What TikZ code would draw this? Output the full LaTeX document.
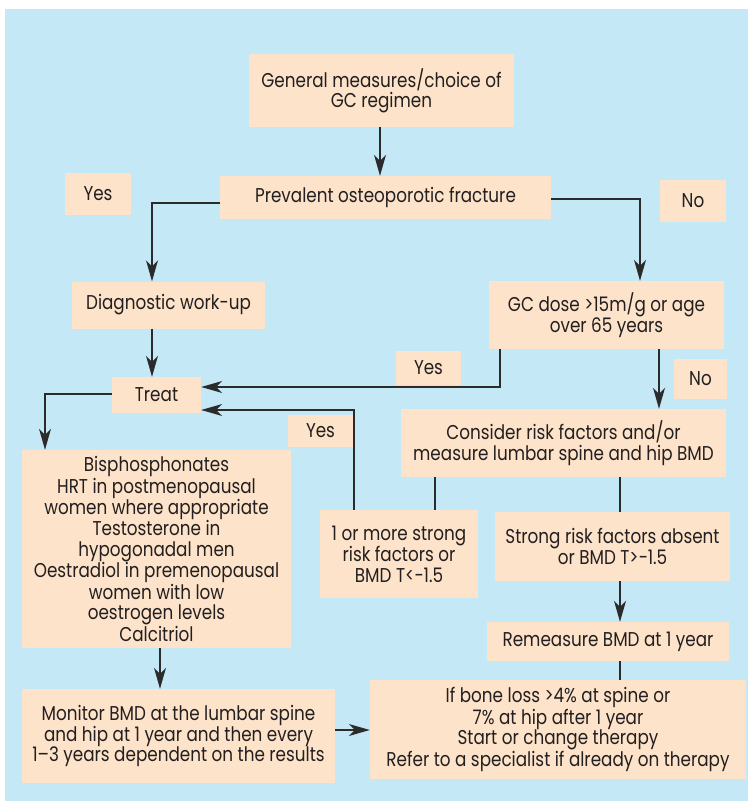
\documentclass[tikz,border=0pt]{standalone}
\usepackage{fontspec}
\setmainfont[FakeStretch=0.84]{Poppins}
\usetikzlibrary{arrows.meta,calc}
\definecolor{bgblue}{HTML}{C5E8F7}
\definecolor{boxfill}{HTML}{FDE3C9}
\definecolor{txt}{HTML}{231F20}
\definecolor{ln}{HTML}{2B2B2B}
\begin{document}
\begin{tikzpicture}[x=1pt,y=-1pt,
  bx/.style={fill=boxfill,draw=none,text=txt,align=center,inner sep=0pt,
    font=\fontsize{20}{20.4}\selectfont},
  conn/.style={draw=ln,line width=1.2pt},
  arr/.style={conn,-{Stealth[length=21pt,width=12pt,inset=6pt]}}]
\useasboundingbox (0,0) rectangle (748,805);
\fill[bgblue] (5,9) rectangle (748,801);
% boxes
\node[bx,minimum width=265pt,minimum height=73pt] (gen) at (381.5,90.5) {General measures/choice of\\GC regimen};
\node[bx,minimum width=331pt,minimum height=43pt] (prev) at (385.5,197.5) {Prevalent osteoporotic fracture};
\node[bx,minimum width=66pt,minimum height=41pt] (yes1) at (98,194) {Yes};
\node[bx,minimum width=66pt,minimum height=41pt] (no1) at (693,201) {No};
\node[bx,minimum width=193pt,minimum height=47pt] (diag) at (168.5,305) {Diagnostic work-up};
\node[bx,minimum width=235pt,minimum height=68pt] (gc) at (606.5,315) {GC dose >15m/g or age\\over 65 years};
\node[bx,minimum width=89pt,minimum height=36pt] (treat) at (156.5,395) {Treat};
\node[bx,minimum width=65pt,minimum height=34pt] (yes2) at (428.5,368) {Yes};
\node[bx,minimum width=53pt,minimum height=40pt] (no2) at (700.5,379) {No};
\node[bx,minimum width=325pt,minimum height=68pt] (cons) at (563.5,443) {Consider risk factors and/or\\measure lumbar spine and hip BMD};
\node[bx,minimum width=65pt,minimum height=32pt] (yes3) at (320.5,431) {Yes};
\node[bx,minimum width=269pt,minimum height=198pt] (bis) at (156.5,549) {Bisphosphonates\\HRT in postmenopausal\\women where appropriate\\Testosterone in\\hypogonadal men\\Oestradiol in premenopausal\\women with low\\oestrogen levels\\Calcitriol};
\node[bx,minimum width=158pt,minimum height=88pt] (one) at (399,554) {1 or more strong\\risk factors or\\BMD T<\textminus1.5};
\node[bx,minimum width=235pt,minimum height=69pt] (strong) at (612.5,546.5) {Strong risk factors absent\\or BMD T>\textminus1.5};
\node[bx,minimum width=242pt,minimum height=39pt] (rem) at (608,641.5) {Remeasure BMD at 1 year};
\node[bx,minimum width=376pt,minimum height=99pt] (ifb) at (558,729.5) {If bone loss >4\% at spine or\\7\% at hip after 1 year\\Start or change therapy\\Refer to a specialist if already on therapy};
\node[bx,minimum width=313pt,minimum height=94pt] (mon) at (178.5,736) {Monitor BMD at the lumbar spine\\and hip at 1 year and then every\\1\textendash3 years dependent on the results};
% helper coordinates
\coordinate (xg) at (380,0);
\coordinate (yl) at (0,203);
\coordinate (xl) at (152,0);
\coordinate (yr) at (0,199);
\coordinate (xr) at (640,0);
\coordinate (xgy) at (500,0);
\coordinate (yy) at (0,387);
\coordinate (xgn) at (659,0);
\coordinate (xo) at (354,0);
\coordinate (yo) at (0,410);
\coordinate (yt) at (0,394);
\coordinate (xt) at (45,0);
\coordinate (xc1) at (435,0);
\coordinate (xc2) at (620,0);
\coordinate (xb) at (160,0);
\coordinate (ym) at (0,730);
% connectors
\draw[arr] (gen.south -| xg) -- (prev.north -| xg);
\draw[arr] (prev.west |- yl) -| (diag.north -| xl);
\draw[arr] (prev.east |- yr) -| (gc.north -| xr);
\draw[arr] (diag.south -| xl) -- (treat.north -| xl);
\draw[arr] (gc.south -| xgy) |- (treat.east |- yy);
\draw[arr] (gc.south -| xgn) -- (cons.north -| xgn);
\draw[arr] (one.north -| xo) |- (treat.east |- yo);
\draw[arr] (treat.west |- yt) -| (bis.north -| xt);
\draw[conn] (cons.south -| xc1) -- (one.north -| xc1);
\draw[conn] (cons.south -| xc2) -- (strong.north -| xc2);
\draw[arr] (strong.south -| xc2) -- (rem.north -| xc2);
\draw[conn] (rem.south -| xc2) -- (ifb.north -| xc2);
\draw[arr] (bis.south -| xb) -- (mon.north -| xb);
\draw[arr] (mon.east |- ym) -- (ifb.west |- ym);
\end{tikzpicture}
\end{document}
